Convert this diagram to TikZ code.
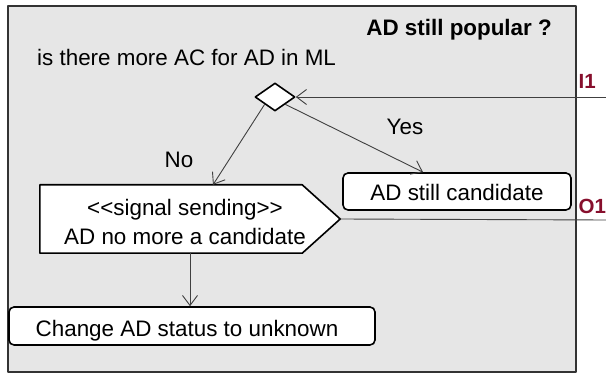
\documentclass[tikz,border=0pt]{standalone}
\usepackage{fontspec}
\setmainfont{Liberation Sans}
\usetikzlibrary{shapes.geometric,arrows.meta}
\definecolor{pinred}{RGB}{135,15,45}
\definecolor{poolgray}{RGB}{230,230,230}
\begin{document}
\begin{tikzpicture}[x=1pt,y=-1pt,line cap=round,line join=round,
		font=\fontsize{22.4}{29}\selectfont,
		actbox/.style={draw=black,line width=1.6pt,fill=white,rounded corners=5pt,inner sep=0pt},
		flow/.style={draw=black!75,line width=0.9pt,-{Straight Barb[length=10pt,width=15pt]}},
		wire/.style={draw=black!75,line width=0.9pt},
		pinlbl/.style={text=pinred,font=\fontsize{20.5}{24}\selectfont\bfseries,inner sep=0pt,anchor=base west}]
				\useasboundingbox (0,0) rectangle (606,374);
				\node[draw=black!80,line width=1.2pt,fill=poolgray,minimum width=568pt,minimum height=366pt,inner sep=0pt] (pool) at (292,189) {};
				\node[anchor=base east,inner sep=0pt,font=\fontsize{22.4}{29}\selectfont\bfseries] (title) at (552,36) {AD still popular ?};
				\node[anchor=base west,inner sep=0pt] (ask) at (37,66) {is there more AC for AD in ML};
				\node[diamond,draw=black,line width=1.6pt,fill=white,minimum width=40pt,minimum height=28pt,inner sep=0pt] (dec) at (275,97) {};
				\node[actbox,minimum width=228pt,minimum height=37pt] (cand) at (457,191.5) {};
				\node[anchor=base,inner sep=0pt] at (457,201) {AD still candidate};
				\node[inner sep=0pt,minimum width=300pt,minimum height=68pt] (send) at (190,219) {};
				\draw[draw=black,line width=1.6pt,fill=white] (send.north west) -- ([xshift=-38pt]send.north east) -- (send.east) -- ([xshift=-38pt]send.south east) -- (send.south west) -- cycle;
				\node[align=center,inner sep=0pt] (sendtxt) at (185,222) {<{}<signal sending>{}>\\AD no more a candidate};
				\node[actbox,minimum width=366pt,minimum height=38pt] (chg) at (192,326) {};
				\node[anchor=base,inner sep=0pt] at (187,337) {Change AD status to unknown};
				\node[anchor=base,inner sep=0pt] (yes) at (405,135) {Yes};
				\node[anchor=base,inner sep=0pt] (no) at (179,168) {No};
				\coordinate (in1) at (606,97);
				\coordinate (out1) at (606,220);
				\node[pinlbl] (i1) at (578.5,89) {I1};
				\node[pinlbl] (o1) at (578.5,214) {O1};
				\draw[flow] (in1) -- (dec.east);
				\draw[flow] (dec.south west) -- ([xshift=23pt]send.north);
				\draw[flow] (dec.south east) -- ([xshift=-34pt]cand.north);
				\draw[flow] (send.south) -- (send.south |- chg.north);
				\draw[wire] (send.east) -- (out1);
			\end{tikzpicture}
\end{document}
